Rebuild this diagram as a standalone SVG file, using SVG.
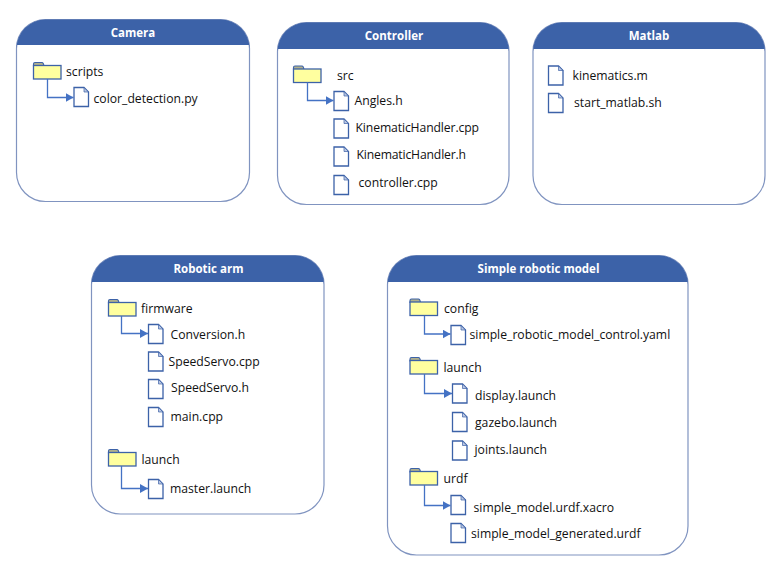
<svg xmlns="http://www.w3.org/2000/svg" width="782" height="571" viewBox="0 0 782 571">
<style>
.card{fill:#fff;stroke:#8094c0;stroke-width:1.2}
.hd{fill:#3c62a8}
.ttl{font:bold 11.5px "Open Sans","Noto Sans",sans-serif;fill:#fff;text-anchor:middle}
.t{font:12.2px "Open Sans","Noto Sans",sans-serif;fill:#111}
.c{fill:none;stroke:#4472c4;stroke-width:1.3}
</style>
<defs>
<g id="folder"><path d="M0 3.5V1.5Q0 0 1.5 0H8.5Q10 0 10.5 3.5Z" fill="#b0b08c" stroke="#3c62a8" stroke-width="1.1"/><rect x="0" y="3" width="27.5" height="13.5" fill="#ffff9f" stroke="#3c62a8" stroke-width="1.3"/></g>
<g id="file"><path d="M0.5 0.5H10.5L15 5V19.5H0.5Z" fill="#fff" stroke="#3c62a8" stroke-width="1.3"/><path d="M10.5 0.5V5H15Z" fill="#b9c6e2" stroke="#3c62a8" stroke-width="0.7"/></g>
<marker id="arr" markerUnits="userSpaceOnUse" markerWidth="9" markerHeight="10" refX="8" refY="4.5" orient="auto"><path d="M0 0L8 4.5L0 9Z" fill="#4472c4"/></marker>
</defs>

<g id="camera">
<rect class="card" x="16.5" y="19.5" width="233" height="182" rx="29"/>
<path class="hd" d="M16.5 45V48.5A29 29 0 0 1 45.5 19.5H220.5A29 29 0 0 1 249.5 48.5V45Z"/>
<text class="ttl" x="133" y="37">Camera</text>
<use href="#folder" x="33.5" y="62.5"/><text class="t" x="66" y="76">scripts</text>
<use href="#file" x="73.5" y="87"/><text class="t" x="93.5" y="103">color_detection.py</text>
</g>

<g id="controller">
<rect class="card" x="277.5" y="22.5" width="231.5" height="182" rx="29"/>
<path class="hd" d="M277.5 49V51.5A29 29 0 0 1 306.5 22.5H480A29 29 0 0 1 509 51.5V49Z"/>
<text class="ttl" x="394" y="40">Controller</text>
<use href="#folder" x="293.5" y="66"/><text class="t" x="337" y="80">src</text>
<use href="#file" x="333.5" y="91"/><text class="t" x="354.5" y="105">Angles.h</text>
<use href="#file" x="333.5" y="118.5"/><text class="t" x="355.5" y="132" textLength="123.5">KinematicHandler.cpp</text>
<use href="#file" x="333.5" y="146.5"/><text class="t" x="356.5" y="159" textLength="109.5">KinematicHandler.h</text>
<use href="#file" x="333.5" y="175"/><text class="t" x="358.5" y="187">controller.cpp</text>
</g>

<g id="matlab">
<rect class="card" x="533" y="22.5" width="232" height="182" rx="29"/>
<path class="hd" d="M533 49V51.5A29 29 0 0 1 562 22.5H736A29 29 0 0 1 765 51.5V49Z"/>
<text class="ttl" x="649" y="40">Matlab</text>
<use href="#file" x="548" y="65.5"/><text class="t" x="572.5" y="80">kinematics.m</text>
<use href="#file" x="548" y="93"/><text class="t" x="574" y="107">start_matlab.sh</text>
</g>

<g id="robotic-arm">
<rect class="card" x="91.5" y="255.5" width="232.5" height="258.5" rx="29"/>
<path class="hd" d="M91.5 282V284.5A29 29 0 0 1 120.5 255.5H295A29 29 0 0 1 324 284.5V282Z"/>
<text class="ttl" x="208.5" y="273">Robotic arm</text>
<use href="#folder" x="108.5" y="299.5"/><text class="t" x="141" y="313">firmware</text>
<use href="#file" x="148" y="324"/><text class="t" x="170.5" y="339">Conversion.h</text>
<use href="#file" x="148" y="351.5"/><text class="t" x="168.5" y="366">SpeedServo.cpp</text>
<use href="#file" x="148" y="379"/><text class="t" x="171" y="392">SpeedServo.h</text>
<use href="#file" x="148" y="407"/><text class="t" x="170.5" y="421">main.cpp</text>
<use href="#folder" x="108.5" y="449.5"/><text class="t" x="141.5" y="463.5">launch</text>
<use href="#file" x="148" y="479"/><text class="t" x="170" y="493">master.launch</text>
</g>

<g id="simple-robotic-model">
<rect class="card" x="387.5" y="255.5" width="300.5" height="299.5" rx="29"/>
<path class="hd" d="M387.5 282V284.5A29 29 0 0 1 416.5 255.5H659A29 29 0 0 1 688 284.5V282Z"/>
<text class="ttl" x="538.5" y="273">Simple robotic model</text>
<use href="#folder" x="410" y="299"/><text class="t" x="444" y="313">config</text>
<use href="#file" x="450.5" y="325"/><text class="t" x="469.5" y="338.5">simple_robotic_model_control.yaml</text>
<use href="#folder" x="410" y="357.5"/><text class="t" x="443.5" y="372">launch</text>
<use href="#file" x="452" y="383.5"/><text class="t" x="475" y="400">display.launch</text>
<use href="#file" x="452" y="412"/><text class="t" x="475" y="427">gazebo.launch</text>
<use href="#file" x="452" y="440.5"/><text class="t" x="474.5" y="454">joints.launch</text>
<use href="#folder" x="410" y="468.5"/><text class="t" x="443.5" y="483">urdf</text>
<use href="#file" x="450.5" y="495"/><text class="t" x="473.5" y="512">simple_model.urdf.xacro</text>
<use href="#file" x="450.5" y="523"/><text class="t" x="471" y="537.5">simple_model_generated.urdf</text>
</g>

<g id="connectors">
<path class="c" marker-end="url(#arr)" d="M47.5 79V97.5H73.5"/>
<path class="c" marker-end="url(#arr)" d="M307.5 82.5V100.5H333.5"/>
<path class="c" marker-end="url(#arr)" d="M121.5 316V333.5H148"/>
<path class="c" marker-end="url(#arr)" d="M121.5 466V488.5H148"/>
<path class="c" marker-end="url(#arr)" d="M424.5 316V334H450.5"/>
<path class="c" marker-end="url(#arr)" d="M424.5 374V393.5H452"/>
<path class="c" marker-end="url(#arr)" d="M424.5 485V505.5H450.5"/>
</g>
</svg>
